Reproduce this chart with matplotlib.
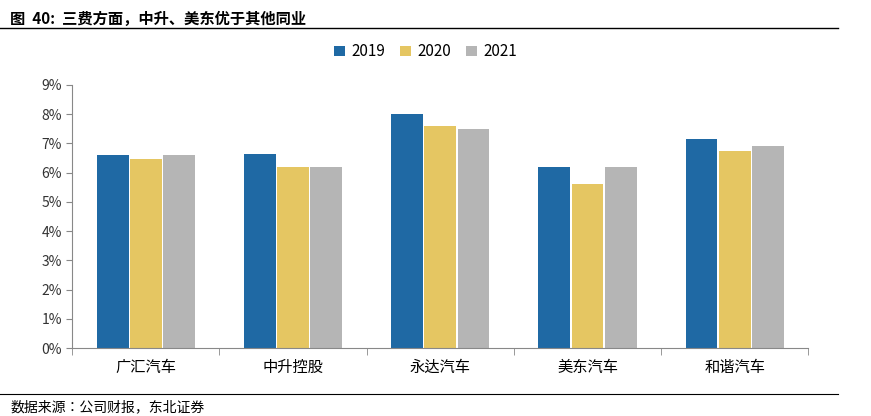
import matplotlib.pyplot as plt
import numpy as np
from matplotlib.lines import Line2D

plt.rcParams['font.family'] = 'sans-serif'
plt.rcParams['font.sans-serif'] = ['Noto Sans CJK SC', 'Noto Sans CJK JP', 'Noto Sans CJK TC', 'DejaVu Sans']

categories = ['广汇汽车', '中升控股', '永达汽车', '美东汽车', '和谐汽车']
years = ['2019', '2020', '2021']
v2019 = [6.6, 6.65, 8.0, 6.2, 7.15]
v2020 = [6.45, 6.2, 7.6, 5.6, 6.75]
v2021 = [6.6, 6.2, 7.5, 6.2, 6.9]
colors = ['#1f69a4', '#e5c662', '#b5b5b5']

fig = plt.figure(figsize=(8.71, 4.16), dpi=100)
ax = fig.add_axes([0.083, 0.163, 0.845, 0.633])

x = np.arange(len(categories))
w = 0.225
for i, (vals, c, lab) in enumerate(zip([v2019, v2020, v2021], colors, years)):
    ax.bar(x + (i - 1) * w, vals, width=w * 0.96, color=c, label=lab)

ax.set_xlim(-0.5, len(categories) - 0.5)
ax.set_ylim(0, 9)
ax.set_yticks(range(0, 10))
ax.set_yticklabels([f'{v}%' for v in range(0, 10)], fontsize=10, color='#333333')
ax.set_xticks(x)
ax.set_xticklabels(categories, fontsize=11)
ax.tick_params(axis='x', length=0, pad=8)
ax.set_xticks(np.arange(-0.5, len(categories)), minor=True)
ax.tick_params(axis='x', which='minor', length=5, direction='out', color='#888888')
ax.tick_params(axis='y', length=4, direction='out', color='#888888')
for s in ['top', 'right']:
    ax.spines[s].set_visible(False)
for s in ['left', 'bottom']:
    ax.spines[s].set_color('#888888')

ax.legend(loc='center', bbox_to_anchor=(0.48, 1.125), ncol=3, frameon=False,
          fontsize=11, handlelength=0.7, handleheight=0.7, columnspacing=1.0, handletextpad=0.4)

fig.text(0.012, 0.955, '图  40:  三费方面，中升、美东优于其他同业', fontsize=11, fontweight='bold', va='center')
fig.add_artist(Line2D([0.0, 0.962], [0.932, 0.932], color='black', lw=1))
fig.add_artist(Line2D([0.0, 0.962], [0.052, 0.052], color='black', lw=0.8))
fig.text(0.012, 0.022, '数据来源：公司财报，东北证券', fontsize=10, va='center')

fig.savefig('out.png')
